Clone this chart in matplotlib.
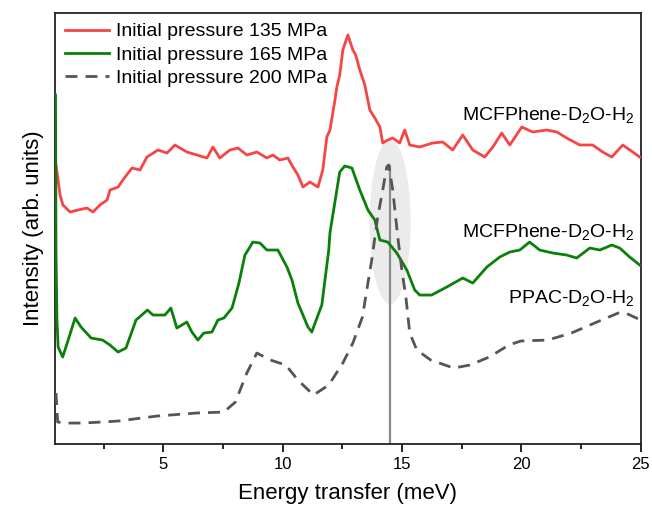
import matplotlib
matplotlib.use("Agg")
import matplotlib.pyplot as plt
from matplotlib.patches import Ellipse

plt.rcParams['font.family'] = ['Liberation Sans', 'DejaVu Sans']
plt.rcParams['mathtext.fontset'] = 'custom'
plt.rcParams['mathtext.rm'] = 'Liberation Sans'
plt.rcParams['mathtext.it'] = 'Liberation Sans'

# --- Data (energy transfer in meV, intensity in arbitrary units) ---
e_135 = [0.51, 0.54, 0.68, 0.80, 1.10, 1.43, 1.81, 2.06, 2.35, 2.65, 2.77, 3.11, 3.31, 3.69,
         4.03, 4.32, 4.78, 5.16, 5.49, 5.99, 6.41, 6.83, 7.08, 7.37, 7.79, 8.13, 8.50, 8.92,
         9.34, 9.59, 9.88, 10.22, 10.43, 10.64, 10.85, 11.14, 11.48, 11.68, 11.85, 11.98,
         12.19, 12.27, 12.39, 12.52, 12.73, 12.94, 13.06, 13.23, 13.44, 13.65, 13.86, 14.07,
         14.19, 14.40, 14.61, 14.90, 15.11, 15.32, 15.74, 16.28, 16.70, 17.12, 17.54, 17.96,
         18.46, 18.80, 19.17, 19.51, 20.01, 20.47, 21.06, 21.48, 21.89, 22.44, 22.98, 23.40,
         23.78, 24.24, 24.66, 24.95]
i_135 = [279, 274, 249, 239, 232, 234, 236, 232, 239, 244, 254, 257, 264, 276,
         274, 287, 294, 291, 299, 292, 289, 286, 297, 286, 294, 296, 289, 292,
         286, 289, 284, 286, 277, 269, 257, 262, 257, 274, 307, 314,
         344, 357, 369, 394, 409, 394, 389, 374, 359, 334, 326, 317,
         301, 304, 306, 301, 314, 299, 297, 301, 302, 294, 309, 294,
         287, 297, 311, 299, 317, 312, 314, 312, 306, 299, 299, 292,
         287, 299, 292, 287]

e_165 = [0.49, 0.51, 0.55, 0.60, 0.79, 1.06, 1.31, 1.56, 1.98, 2.46, 2.77, 3.11, 3.44, 3.86,
         4.34, 4.57, 5.07, 5.32, 5.57, 5.99, 6.20, 6.45, 6.70, 7.04, 7.29, 7.54, 7.88, 8.17,
         8.42, 8.63, 8.75, 9.05, 9.34, 9.80, 10.18, 10.39, 10.64, 11.06, 11.22, 11.45, 11.64,
         11.93, 11.98, 12.39, 12.60, 12.90, 13.23, 13.57, 13.86, 14.07, 14.40, 14.78, 15.20,
         15.53, 15.74, 16.24, 16.87, 17.54, 17.96, 18.55, 19.09, 19.51, 19.93, 20.34, 20.76,
         21.31, 21.89, 22.31, 22.86, 23.28, 23.78, 24.11, 24.53, 24.95]
i_165 = [349, 194, 124, 97, 87, 107, 126, 117, 106, 104, 99, 92, 96, 124,
         134, 129, 129, 136, 116, 122, 112, 104, 111, 112, 124, 126, 136, 161,
         189, 197, 202, 201, 194, 194, 177, 164, 141, 117, 112, 127, 139,
         194, 211, 272, 278, 276, 254, 234, 224, 204, 202, 191, 174,
         154, 149, 149, 157, 166, 161, 177, 187, 192, 194, 202, 194,
         191, 189, 186, 196, 194, 199, 196, 187, 179]

e_200 = [0.51, 0.58, 1.06, 1.64, 3.11, 4.74, 6.37, 7.54, 8.02, 8.50, 8.92, 9.49, 10.13,
         10.64, 11.29, 11.93, 12.52, 12.94, 13.34, 13.57, 13.73, 13.98, 14.19, 14.36, 14.44,
         14.61, 14.82, 14.99, 15.16, 15.32, 15.62, 16.20, 17.16, 17.84, 18.65, 19.47, 19.97,
         21.10, 22.09, 23.06, 24.05, 24.36, 24.99]
i_200 = [51, 22, 21, 21, 23, 28, 31, 32, 42, 71, 91, 84, 79,
         64, 49, 59, 81, 101, 127, 161, 184, 227, 254, 277, 279,
         254, 207, 174, 147, 111, 94, 84, 76, 79, 87, 99, 103,
         104, 111, 121, 131, 131, 124]

series_labels = ['Initial pressure 135 MPa', 'Initial pressure 165 MPa', 'Initial pressure 200 MPa']
curve_labels = ['MCFPhene-D$_2$O-H$_2$', 'MCFPhene-D$_2$O-H$_2$', 'PPAC-D$_2$O-H$_2$']
peak_energy = 14.5
peak_intensity = 279
x_ticks = [5, 10, 15, 20, 25]

fig = plt.figure(figsize=(6.52, 5.11), dpi=100)
ax = fig.add_axes([0.0844, 0.131, 0.8986, 0.8436])

ax.add_patch(Ellipse((peak_energy, 222), width=1.72, height=164,
                     facecolor='#e8e8e8', edgecolor='none', alpha=0.85, zorder=1))
ax.vlines(peak_energy, 0, peak_intensity, color='#8a8a8a', lw=1.6, zorder=2)

ax.plot(e_135, i_135, color='#f64545', lw=2.0, label=series_labels[0], zorder=3)
ax.plot(e_165, i_165, color='#0a800a', lw=2.0, label=series_labels[1], zorder=3)
ax.plot(e_200, i_200, color='#555555', lw=2.0, dashes=(4.3, 2.9),
        label=series_labels[2], zorder=3)

ax.text(24.74, 324, curve_labels[0], ha='right', va='baseline', fontsize=14)
ax.text(24.74, 207, curve_labels[1], ha='right', va='baseline', fontsize=14)
ax.text(24.74, 141, curve_labels[2], ha='right', va='baseline', fontsize=14)

ax.set_xlim(0.47, 25)
ax.set_ylim(0, 431)
ax.set_xticks(x_ticks)
ax.set_xticks([2.5, 7.5, 12.5, 17.5, 22.5], minor=True)
ax.set_xticklabels([str(t) for t in x_ticks], fontsize=12)
ax.tick_params(axis='x', which='major', direction='out', length=6, width=1.2)
ax.tick_params(axis='x', which='minor', direction='out', length=3.5, width=1.2)
ax.set_yticks([])
for s in ax.spines.values():
    s.set_linewidth(1.3)
    s.set_color('#222222')

ax.set_xlabel('Energy transfer (meV)', fontsize=16, labelpad=8)
ax.set_ylabel('Intensity (arb. units)', fontsize=16, labelpad=8)

leg = ax.legend(loc='upper left', frameon=False, fontsize=14, handlelength=2.3,
                handletextpad=0.35, borderaxespad=0.0, borderpad=0.5,
                labelspacing=0.3, bbox_to_anchor=(0.0, 1.0))

fig.savefig('out.png', dpi=100)
